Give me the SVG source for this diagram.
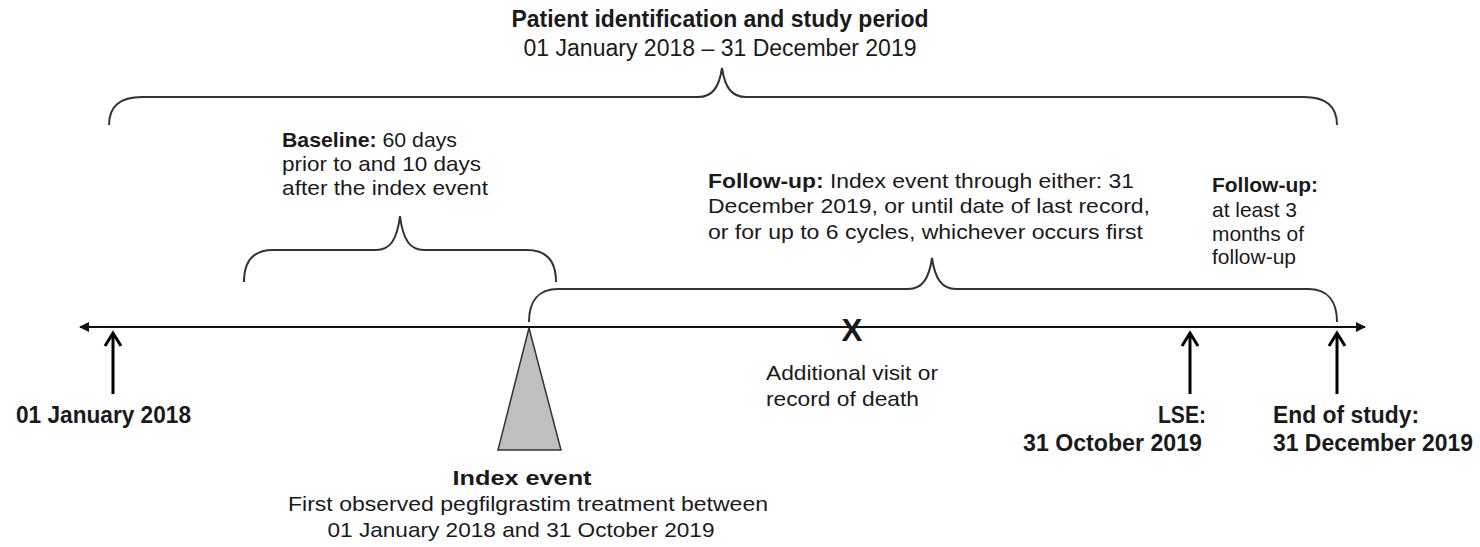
<svg xmlns="http://www.w3.org/2000/svg" width="1480" height="547" viewBox="0 0 1480 547">
<style>
text{font-family:"Liberation Sans",Arial,sans-serif;font-size:21px;fill:#1a1a1a}
.b{font-weight:bold}
.L{font-size:23px}
.c{text-anchor:middle}
.r{text-anchor:end}
.brace{fill:none;stroke:#333;stroke-width:2}
.axis{stroke:#111;stroke-width:2}
.up{fill:none;stroke:#000;stroke-width:3;stroke-linecap:butt}
</style>
<defs>
<marker id="ah" viewBox="0 0 10 10" refX="9" refY="5" markerWidth="5" markerHeight="5" orient="auto-start-reverse" markerUnits="strokeWidth">
<path d="M0,0 L10,5 L0,10 Z" fill="#111"/>
</marker>
</defs>
<rect width="1480" height="547" fill="#fff"/>

<g id="title">
<text class="b c L" x="720" y="27" textLength="417" lengthAdjust="spacingAndGlyphs">Patient identification and study period</text>
<text class="c L" x="720" y="56" textLength="393" lengthAdjust="spacingAndGlyphs">01 January 2018 – 31 December 2019</text>
</g>

<g id="baseline-label">
<text x="282" y="147" textLength="175" lengthAdjust="spacingAndGlyphs"><tspan class="b">Baseline:</tspan> 60 days</text>
<text x="282" y="171" textLength="199" lengthAdjust="spacingAndGlyphs">prior to and 10 days</text>
<text x="282" y="195" textLength="206" lengthAdjust="spacingAndGlyphs">after the index event</text>
</g>

<g id="followup-label">
<text x="708" y="188" textLength="426" lengthAdjust="spacingAndGlyphs"><tspan class="b">Follow-up:</tspan> Index event through either: 31</text>
<text x="708" y="213" textLength="442" lengthAdjust="spacingAndGlyphs">December 2019, or until date of last record,</text>
<text x="708" y="239" textLength="435" lengthAdjust="spacingAndGlyphs">or for up to 6 cycles, whichever occurs first</text>
</g>

<g id="followup-min-label">
<text class="b" x="1212" y="192" textLength="106" lengthAdjust="spacingAndGlyphs">Follow-up:</text>
<text x="1212" y="217" textLength="85" lengthAdjust="spacingAndGlyphs">at least 3</text>
<text x="1212" y="241" textLength="92" lengthAdjust="spacingAndGlyphs">months of</text>
<text x="1212" y="264" textLength="84" lengthAdjust="spacingAndGlyphs">follow-up</text>
</g>

<g id="connectors">
<path class="brace" d="M109,125 C109,107 119,97 142,97 L698,97 C712,97 719,88 722,68 C725,88 732,97 746,97 L1304,97 C1327,97 1337,107 1337,125"/>
<path class="brace" d="M244,282 C244,263 252,250 273,250 L376,250 C390,250 397,240 400,216 C403,240 410,250 424,250 L527,250 C548,250 556,263 556,282"/>
<path class="brace" d="M529,322 C529,302 538,289 558,289 L908,289 C922,289 929,279 932,258 C935,279 942,289 956,289 L1308,289 C1328,289 1337,302 1337,322"/>
<line class="axis" x1="80" y1="327" x2="1365" y2="327" marker-start="url(#ah)" marker-end="url(#ah)"/>
</g>

<g id="start">
<line class="up" x1="113" y1="394" x2="113" y2="333"/>
<polyline class="up" points="105,346 113,333 121,346"/>
<text class="b L" x="16" y="423" textLength="175" lengthAdjust="spacingAndGlyphs">01 January 2018</text>
</g>

<g id="index-event">
<polygon points="529,328 561,450 498,450" fill="#bfbfbf" stroke="#333" stroke-width="1.5"/>
<text class="b c" x="522" y="485" textLength="139" lengthAdjust="spacingAndGlyphs">Index event</text>
<text class="c" x="528" y="511" textLength="480" lengthAdjust="spacingAndGlyphs">First observed pegfilgrastim treatment between</text>
<text class="c" x="521" y="537" textLength="387" lengthAdjust="spacingAndGlyphs">01 January 2018 and 31 October 2019</text>
</g>

<g id="additional-visit">
<text class="b c" x="852" y="341" style="font-size:31px" textLength="21" lengthAdjust="spacingAndGlyphs">X</text>
<text x="766" y="380" textLength="172" lengthAdjust="spacingAndGlyphs">Additional visit or</text>
<text x="766" y="406" textLength="153" lengthAdjust="spacingAndGlyphs">record of death</text>
</g>

<g id="lse">
<line class="up" x1="1190" y1="394" x2="1190" y2="333"/>
<polyline class="up" points="1182,346 1190,333 1198,346"/>
<text class="b r L" x="1206" y="423" textLength="48" lengthAdjust="spacingAndGlyphs">LSE:</text>
<text class="b r L" x="1202" y="451" textLength="179" lengthAdjust="spacingAndGlyphs">31 October 2019</text>
</g>

<g id="end-of-study">
<line class="up" x1="1337" y1="394" x2="1337" y2="333"/>
<polyline class="up" points="1329,346 1337,333 1345,346"/>
<text class="b L" x="1273" y="423" textLength="146" lengthAdjust="spacingAndGlyphs">End of study:</text>
<text class="b L" x="1273" y="451" textLength="200" lengthAdjust="spacingAndGlyphs">31 December 2019</text>
</g>
</svg>
